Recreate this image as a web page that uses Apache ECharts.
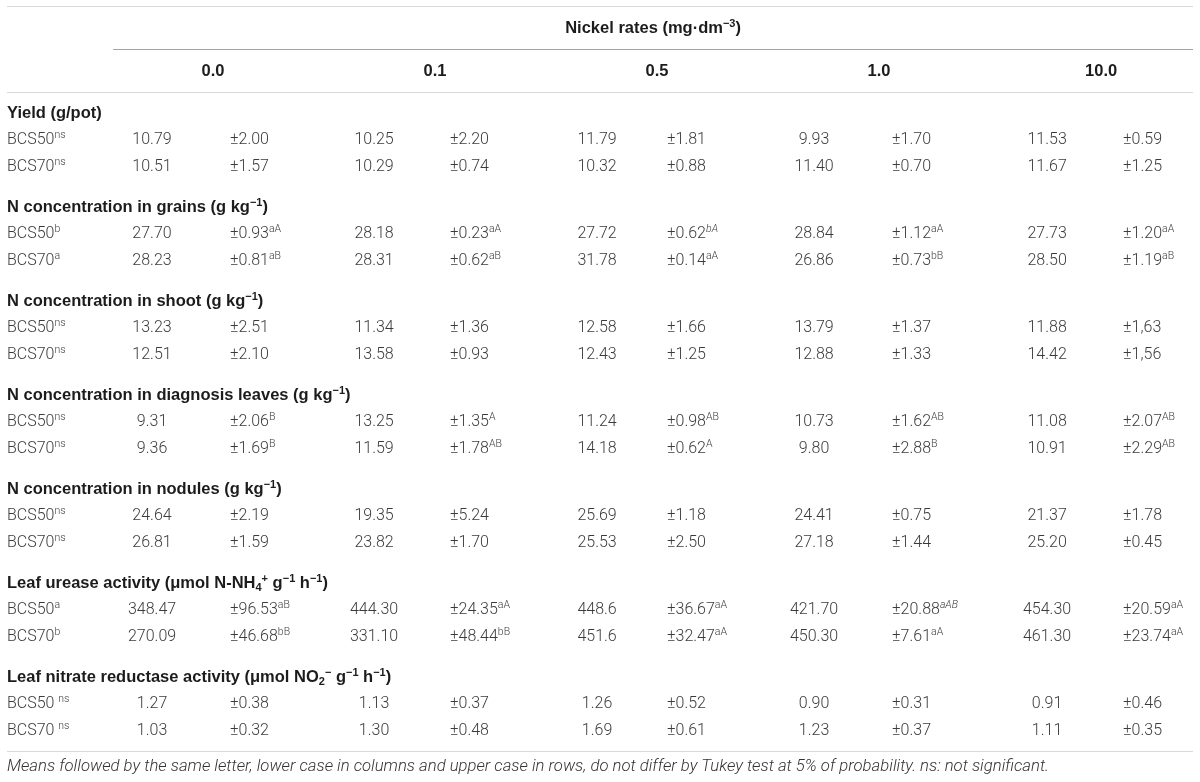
<!DOCTYPE html>
<html lang="en">
<head>
<meta charset="UTF-8">
<title>Nickel rates</title>
<script src="https://cdn.jsdelivr.net/npm/echarts@6.0.0/dist/echarts.min.js"></script>
<style>html, body { margin: 0; background: #fff; }</style>
</head>
<body>
<div id="main" style="width: 1200px; height: 782px;"></div>
<script>
    // column heads (nickel rates, mg dm-3)
    var rates = ['0.0', '0.1', '0.5', '1.0', '10.0'];

    // ^{..} superscript, ^(..) italic superscript, _{..} subscript
    var sections = [
        'Yield (g/pot)',
        'N concentration in grains (g kg^{−1})',
        'N concentration in shoot (g kg^{−1})',
        'N concentration in diagnosis leaves (g kg^{−1})',
        'N concentration in nodules (g kg^{−1})',
        'Leaf urease activity (μmol N-NH_{4}^{+} g^{−1} h^{−1})',
        'Leaf nitrate reductase activity (μmol NO_{2}^{−} g^{−1} h^{−1})'
    ];
    var rowLabels = [
        ['BCS50^{ns}', 'BCS70^{ns}'],
        ['BCS50^{b}', 'BCS70^{a}'],
        ['BCS50^{ns}', 'BCS70^{ns}'],
        ['BCS50^{ns}', 'BCS70^{ns}'],
        ['BCS50^{ns}', 'BCS70^{ns}'],
        ['BCS50^{a}', 'BCS70^{b}'],
        ['BCS50 ^{ns}', 'BCS70 ^{ns}']
    ];

    var yieldMean = [['10.79', '10.25', '11.79', '9.93', '11.53'],
                     ['10.51', '10.29', '10.32', '11.40', '11.67']];
    var yieldSd = [['±2.00', '±2.20', '±1.81', '±1.70', '±0.59'],
                   ['±1.57', '±0.74', '±0.88', '±0.70', '±1.25']];

    var grainMean = [['27.70', '28.18', '27.72', '28.84', '27.73'],
                     ['28.23', '28.31', '31.78', '26.86', '28.50']];
    var grainSd = [['±0.93^{aA}', '±0.23^{aA}', '±0.62^(bA)', '±1.12^{aA}', '±1.20^{aA}'],
                   ['±0.81^{aB}', '±0.62^{aB}', '±0.14^{aA}', '±0.73^{bB}', '±1.19^{aB}']];

    var shootMean = [['13.23', '11.34', '12.58', '13.79', '11.88'],
                     ['12.51', '13.58', '12.43', '12.88', '14.42']];
    var shootSd = [['±2.51', '±1.36', '±1.66', '±1.37', '±1,63'],
                   ['±2.10', '±0.93', '±1.25', '±1.33', '±1,56']];

    var leafMean = [['9.31', '13.25', '11.24', '10.73', '11.08'],
                    ['9.36', '11.59', '14.18', '9.80', '10.91']];
    var leafSd = [['±2.06^{B}', '±1.35^{A}', '±0.98^{AB}', '±1.62^{AB}', '±2.07^{AB}'],
                  ['±1.69^{B}', '±1.78^{AB}', '±0.62^{A}', '±2.88^{B}', '±2.29^{AB}']];

    var noduleMean = [['24.64', '19.35', '25.69', '24.41', '21.37'],
                      ['26.81', '23.82', '25.53', '27.18', '25.20']];
    var noduleSd = [['±2.19', '±5.24', '±1.18', '±0.75', '±1.78'],
                    ['±1.59', '±1.70', '±2.50', '±1.44', '±0.45']];

    var ureaseMean = [['348.47', '444.30', '448.6', '421.70', '454.30'],
                      ['270.09', '331.10', '451.6', '450.30', '461.30']];
    var ureaseSd = [['±96.53^{aB}', '±24.35^{aA}', '±36.67^{aA}', '±20.88^(aAB)', '±20.59^{aA}'],
                    ['±46.68^{bB}', '±48.44^{bB}', '±32.47^{aA}', '±7.61^{aA}', '±23.74^{aA}']];

    var nitrateMean = [['1.27', '1.13', '1.26', '0.90', '0.91'],
                       ['1.03', '1.30', '1.69', '1.23', '1.11']];
    var nitrateSd = [['±0.38', '±0.37', '±0.52', '±0.31', '±0.46'],
                     ['±0.32', '±0.48', '±0.61', '±0.37', '±0.35']];

    var titleText = 'Nickel rates (mg·dm^{−3})';
    var noteText = 'Means followed by the same letter, lower case in columns and upper case in rows, ' +
        'do not differ by Tukey test at 5% of probability. ns: not significant.';

    var means = [yieldMean, grainMean, shootMean, leafMean, noduleMean, ureaseMean, nitrateMean];
    var sds = [yieldSd, grainSd, shootSd, leafSd, noduleSd, ureaseSd, nitrateSd];

    // layout: x in rate-group units (one group = 222px), y in row slots (13.4px)
    var X_MIN = -0.928, X_MAX = 4.414;   // table edges 7px .. 1193px
    var SPAN_START = -0.45;               // rule under the spanning head
    var SLOT = {topRule: -8, title: -6.35, spanRule: -4.8, rate: -3.15, headRule: -1.6, bottomRule: 47.5, note: 48.65};
    var SECTION_STEP = 7;
    // px offsets of the mean (centre) and the ± column (left edge) from each group's centre
    var MEAN_DX = [-61, -61, -60, -65, -54];
    var SD_DX = [17, 15, 10, 13, 22];

    var BODY = "Roboto, 'Liberation Sans', sans-serif";
    var HEAD = "'Liberation Sans', Arial, sans-serif";
    var INK = '#3b3b3b', DARK = '#1c1c1c';

    function part(family, size, weight, style, color, va, lh) {
        return {fontFamily: family, fontSize: size, fontWeight: weight, fontStyle: style, fill: color,
            verticalAlign: va, lineHeight: lh};
    }
    var RICH = {
        r: part(BODY, 16, 300, 'normal', INK, 'middle', 20),
        rsup: part(BODY, 10.5, 300, 'normal', INK, 'top', 11),
        rsupi: part(BODY, 10.5, 300, 'italic', INK, 'top', 11),
        rsub: part(BODY, 10.5, 300, 'normal', INK, 'bottom', 11),
        b: part(HEAD, 16.5, 'bold', 'normal', DARK, 'middle', 20),
        bsup: part(HEAD, 11, 'bold', 'normal', DARK, 'top', 11),
        bsupi: part(HEAD, 11, 'bold', 'italic', DARK, 'top', 11),
        bsub: part(HEAD, 11, 'bold', 'normal', DARK, 'bottom', 11),
        i: part(BODY, 16.7, 300, 'italic', '#333', 'middle', 20),
        isup: part(BODY, 11, 300, 'italic', '#333', 'top', 11),
        isupi: part(BODY, 11, 300, 'italic', '#333', 'top', 11),
        isub: part(BODY, 11, 300, 'italic', '#333', 'bottom', 11)
    };

    function toRich(str, base) {
        var out = '';
        str.split(/(\^\{[^}]*\}|\^\([^)]*\)|_\{[^}]*\})/).forEach(function (s) {
            if (!s) return;
            if (s.indexOf('^{') === 0) out += '{' + base + 'sup|' + s.slice(2, -1) + '}';
            else if (s.indexOf('^(') === 0) out += '{' + base + 'supi|' + s.slice(2, -1) + '}';
            else if (s.indexOf('_{') === 0) out += '{' + base + 'sub|' + s.slice(2, -1) + '}';
            else out += '{' + base + '|' + s + '}';
        });
        return out;
    }

    var KIND = {
        title: {base: 'b', align: 'center'},
        rate: {base: 'b', align: 'center'},
        section: {base: 'b', align: 'left'},
        label: {base: 'r', align: 'left'},
        mean: {base: 'r', align: 'center'},
        sd: {base: 'r', align: 'left'},
        note: {base: 'i', align: 'left'}
    };

    // build the cell list from the arrays above
    var cells = [];
    cells.push({x: (SPAN_START + X_MAX) / 2, y: SLOT.title, kind: 'title', text: titleText, dx: 0});
    rates.forEach(function (r, g) {
        cells.push({x: g, y: SLOT.rate, kind: 'rate', text: r, dx: 0});
    });
    sections.forEach(function (name, s) {
        var top = s * SECTION_STEP;
        cells.push({x: X_MIN, y: top, kind: 'section', text: name, dx: 0});
        rowLabels[s].forEach(function (lab, r) {
            var y = top + 2 + r * 2;
            cells.push({x: X_MIN, y: y, kind: 'label', text: lab, dx: 0});
            rates.forEach(function (rate, g) {
                cells.push({x: g, y: y, kind: 'mean', text: means[s][r][g], dx: MEAN_DX[g]});
                cells.push({x: g, y: y, kind: 'sd', text: sds[s][r][g], dx: SD_DX[g]});
            });
        });
    });
    cells.push({x: X_MIN, y: SLOT.note, kind: 'note', text: noteText, dx: 0});

    var rules = [
        {x0: X_MIN, x1: X_MAX, y: SLOT.topRule, color: '#dadada'},
        {x0: SPAN_START, x1: X_MAX, y: SLOT.spanRule, color: '#a3a3a3'},
        {x0: X_MIN, x1: X_MAX, y: SLOT.headRule, color: '#dadada'},
        {x0: X_MIN, x1: X_MAX, y: SLOT.bottomRule, color: '#dadada'}
    ];

    var chart = echarts.init(document.getElementById('main'));
    chart.setOption({
        animation: false,
        grid: {left: 7, right: 7, top: 6, height: 745},
        xAxis: {type: 'value', min: X_MIN, max: X_MAX, show: false},
        yAxis: {type: 'value', inverse: true, min: SLOT.topRule, max: SLOT.bottomRule, show: false},
        series: [
            {
                type: 'custom',
                silent: true,
                clip: false,
                data: rules.map(function (d) { return [d.x0, d.x1, d.y]; }),
                encode: {x: [0, 1], y: 2},
                renderItem: function (params, api) {
                    var a = api.coord([api.value(0), api.value(2)]);
                    var b = api.coord([api.value(1), api.value(2)]);
                    var y = Math.round(a[1]) + 0.5;
                    return {
                        type: 'line',
                        shape: {x1: a[0], y1: y, x2: b[0], y2: y},
                        style: {stroke: rules[params.dataIndex].color, lineWidth: 1.2}
                    };
                }
            },
            {
                type: 'custom',
                silent: true,
                clip: false,
                data: cells.map(function (c) { return [c.x, c.y]; }),
                renderItem: function (params, api) {
                    var c = cells[params.dataIndex];
                    var k = KIND[c.kind];
                    var p = api.coord([api.value(0), api.value(1)]);
                    return {
                        type: 'text',
                        x: p[0] + c.dx,
                        y: p[1],
                        style: {
                            text: toRich(c.text, k.base),
                            rich: RICH,
                            align: k.align,
                            verticalAlign: 'middle'
                        }
                    };
                }
            }
        ]
    });
</script>
</body>
</html>
